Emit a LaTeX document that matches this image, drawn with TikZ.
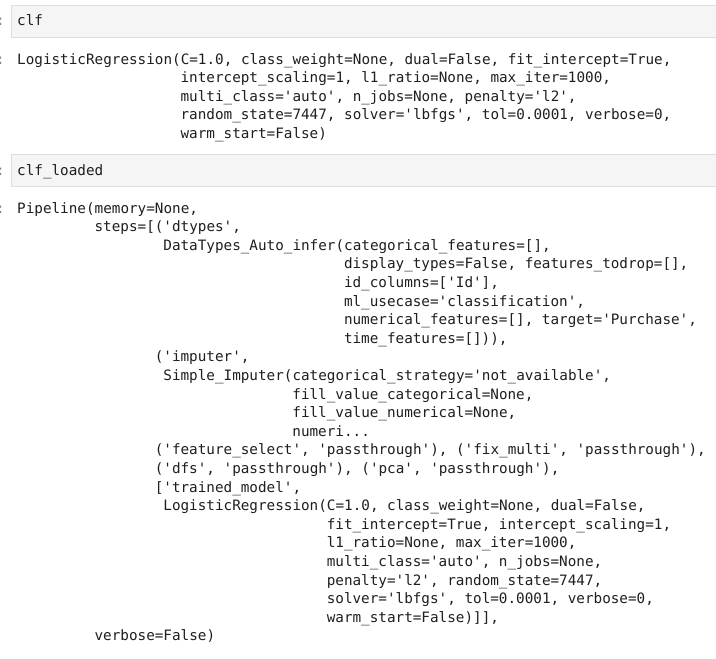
\documentclass[tikz,border=0pt]{standalone}
\usepackage{fontspec}
\newfontfamily\code{DejaVu Sans Mono}
\begin{document}
\begin{tikzpicture}[x=1pt,y=-1pt,
  ln/.style={anchor=base west,inner sep=0pt,font=\code\fontsize{14.3}{16}\selectfont,text=black!88},
  prompt/.style={anchor=base west,inner sep=0pt,font=\code\fontsize{14.3}{16}\selectfont,text=black!50},
  cell/.style={fill=black!4,draw=black!13,line width=1pt}]
\useasboundingbox (0,0) rectangle (716,659);
\fill[white] (0,0) rectangle (716,659);
\draw[cell] (11,5) rectangle (720,37);
\draw[cell] (11,154) rectangle (720,186);
\node[prompt] (p1) at (-4,25) {:};
\node[prompt] (p2) at (-4,64) {:};
\node[prompt] (p3) at (-4,175) {:};
\node[prompt] (p4) at (-4,213) {:};
\node[ln] (c1) at (17,25) {clf};
\node[ln] (c2) at (17,175) {clf\_loaded};
\def\cw{8.6}
\foreach \r/\c/\t [count=\i] in {
 0/0/{LogisticRegression(C=1.0, class\_weight=None, dual=False, fit\_intercept=True,},
 1/19/{intercept\_scaling=1, l1\_ratio=None, max\_iter=1000,},
 2/19/{multi\_class='auto', n\_jobs=None, penalty='l2',},
 3/19/{random\_state=7447, solver='lbfgs', tol=0.0001, verbose=0,},
 4/19/{warm\_start=False)}}
 \node[ln] (a\i) at (17+\c*\cw,64+\r*18.6) {\t};
\foreach \r/\c/\t [count=\i] in {
 0/0/{Pipeline(memory=None,},
 1/9/{steps=[('dtypes',},
 2/17/{DataTypes\_Auto\_infer(categorical\_features=[],},
 3/38/{display\_types=False, features\_todrop=[],},
 4/38/{id\_columns=['Id'],},
 5/38/{ml\_usecase='classification',},
 6/38/{numerical\_features=[], target='Purchase',},
 7/38/{time\_features=[])),},
 8/16/{('imputer',},
 9/17/{Simple\_Imputer(categorical\_strategy='not\_available',},
 10/32/{fill\_value\_categorical=None,},
 11/32/{fill\_value\_numerical=None,},
 12/32/{numeri...},
 13/16/{('feature\_select', 'passthrough'), ('fix\_multi', 'passthrough'),},
 14/16/{('dfs', 'passthrough'), ('pca', 'passthrough'),},
 15/16/{['trained\_model',},
 16/17/{LogisticRegression(C=1.0, class\_weight=None, dual=False,},
 17/36/{fit\_intercept=True, intercept\_scaling=1,},
 18/36/{l1\_ratio=None, max\_iter=1000,},
 19/36/{multi\_class='auto', n\_jobs=None,},
 20/36/{penalty='l2', random\_state=7447,},
 21/36/{solver='lbfgs', tol=0.0001, verbose=0,},
 22/36/{warm\_start=False)]],},
 23/9/{verbose=False)}}
 \node[ln] (b\i) at (17+\c*\cw,213+\r*18.6) {\t};
\end{tikzpicture}
\end{document}
